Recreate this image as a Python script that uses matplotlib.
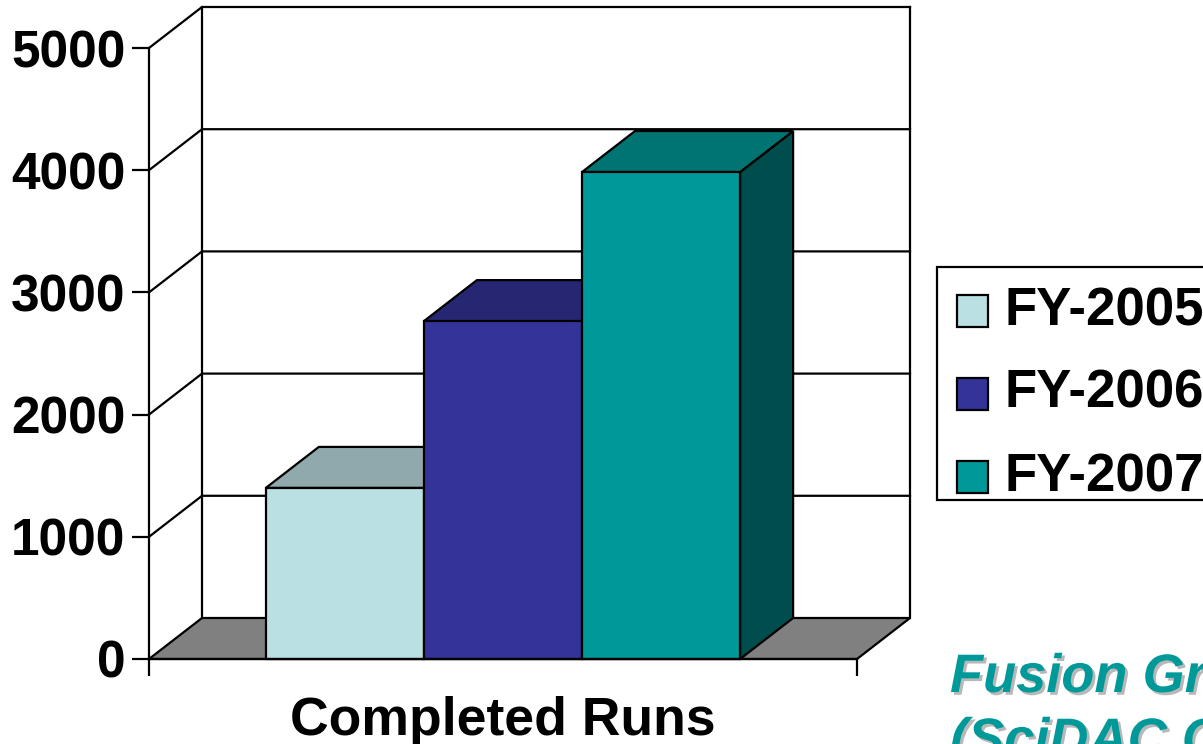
import matplotlib
matplotlib.use("Agg")
import matplotlib.pyplot as plt
from matplotlib.patches import Polygon, Rectangle
import matplotlib.patheffects as pe

plt.rcParams['font.family'] = ['Liberation Sans', 'DejaVu Sans']
plt.rcParams['font.weight'] = 'bold'

# data
years = ['FY-2005', 'FY-2006', 'FY-2007']
runs = [1400, 2765, 3985]
front_cols = ['#BBE0E3', '#333399', '#009999']
top_cols = ['#8FA9AC', '#262673', '#007373']
side_cols = ['#8CA8AA', '#262673', '#004D4D']
yticks = [0, 1000, 2000, 3000, 4000, 5000]
category = 'Completed Runs'

fig = plt.figure(figsize=(12.03, 7.44), dpi=100)
ax = fig.add_axes([149/1203, 85/744, 708/1203, 611/744])
ax.set_xlim(0, 1)
ax.set_ylim(0, 5000)

# depth of the fake 3d box (x in axes units, y in data units)
dx = 53/708
dy = 41 * 5000/611
ytop = yticks[-1]
lw = 1.6

# floor
ax.add_patch(Polygon([(0, 0), (dx, dy), (1+dx, dy), (1, 0)], closed=True,
                     facecolor='#808080', edgecolor='black', lw=lw, clip_on=False, zorder=1))
# walls + gridlines
for t in yticks[1:]:
    ax.plot([0, dx, 1+dx], [t, t+dy, t+dy], color='black', lw=lw, clip_on=False, zorder=1)
ax.plot([dx, dx], [dy, ytop+dy], color='black', lw=lw, clip_on=False, zorder=1)
ax.plot([1+dx, 1+dx], [dy, ytop+dy], color='black', lw=lw, clip_on=False, zorder=1)

# bars
w = 0.2233
x0 = 0.165
for i, v in enumerate(runs):
    xl = x0 + i*w
    xr = xl + w
    z = 3 + i*3
    ax.add_patch(Polygon([(xr, 0), (xr+dx, dy), (xr+dx, v+dy), (xr, v)], closed=True,
                         facecolor=side_cols[i], edgecolor='black', lw=lw, clip_on=False, zorder=z))
    ax.add_patch(Polygon([(xl, v), (xl+dx, v+dy), (xr+dx, v+dy), (xr, v)], closed=True,
                         facecolor=top_cols[i], edgecolor='black', lw=lw, clip_on=False, zorder=z+1))
    ax.bar(xl, v, width=w, align='edge', color=front_cols[i], edgecolor='black',
           lw=lw, clip_on=False, zorder=z+2)

for s in ['top', 'right']:
    ax.spines[s].set_visible(False)
for s in ['left', 'bottom']:
    ax.spines[s].set_linewidth(lw)
    ax.spines[s].set_zorder(20)
ax.set_yticks(yticks)
ax.set_yticklabels([str(t) for t in yticks], fontsize=37, fontweight='bold')
ax.set_xticks([0, 1])
ax.set_xticklabels(['', ''])
ax.tick_params(axis='both', length=12, width=lw, direction='out')
ax.tick_params(axis='y', pad=5)
ax.set_xlabel(category, fontsize=38.5, fontweight='bold', labelpad=11)
ax.patch.set_alpha(0)

# legend box
fig.add_artist(Rectangle((937/1203, 1-500/744), 300/1203, 233/744, transform=fig.transFigure,
                         facecolor='white', edgecolor='black', lw=lw))
for i, lab in enumerate(years):
    yc = 311 + i*83
    fig.add_artist(Rectangle((957/1203, 1-(yc+16)/744), 31/1203, 32/744, transform=fig.transFigure,
                             facecolor=front_cols[i], edgecolor='black', lw=lw))
    fig.text(1005/1203, 1-yc/744, lab, fontsize=38, fontweight='bold', va='center', ha='left')

shadow = [pe.SimplePatchShadow(offset=(2, -2), shadow_rgbFace='#b8b8b8', alpha=1), pe.Normal()]
fig.text(950/1203, 1-692/744, 'Fusion Grid', fontsize=39, fontweight='bold', style='italic',
         color='#009999', va='baseline', ha='left', path_effects=shadow)
fig.text(950/1203, 1-756/744, '(SciDAC Center)', fontsize=39, fontweight='bold', style='italic',
         color='#009999', va='baseline', ha='left', path_effects=shadow)

fig.savefig('out.png', dpi=100)
